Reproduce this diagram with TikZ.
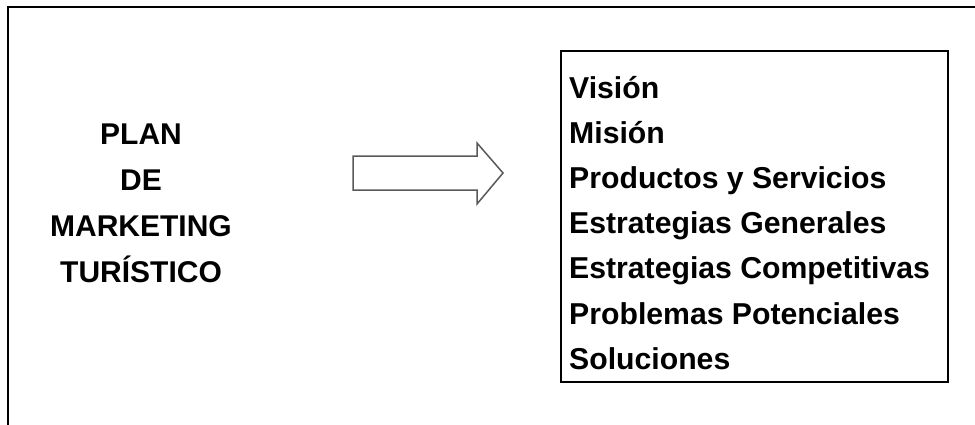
\documentclass[tikz,border=0pt]{standalone}
\usepackage{fontspec}
\setmainfont{Liberation Sans}
\usetikzlibrary{positioning}
\tikzset{
  frame/.style={line width=2pt},
  listbox/.style={draw, line width=2pt, minimum width=387pt, minimum height=331pt, inner sep=0pt},
  item/.style={anchor=base west, inner sep=0pt, font=\fontsize{30.2}{36}\selectfont\bfseries},
  title/.style={align=center, anchor=north, inner sep=0pt, font=\fontsize{30}{46}\selectfont\bfseries},
  fatarrow/.style={draw=gray!70!black, fill=white, line width=1.5pt, line join=miter}
}

\begin{document}
\begin{tikzpicture}[x=1pt, y=-1pt]
  \useasboundingbox (0,0) rectangle (975,424);
  % outer frame, cut off at right and bottom
  \draw[frame] (8,440) -- (8,7) -- (990,7);

  \node[title] (plan) at (141,124) {PLAN\\DE\\MARKETING\\TURÍSTICO};

  % block arrow
  \draw[fatarrow] (353,156) -- (477,156) -- (477,143) -- (503,173) -- (477,204) -- (477,190) -- (353,190) -- cycle;

  \node[listbox] (list) at (754.5,216.5) {};
  \foreach \txt [count=\i] in {Visión, Misión, Productos y Servicios, Estrategias Generales, Estrategias Competitivas, Problemas Potenciales, Soluciones}
    \node[item] (item\i) at (569,{98+45.2*(\i-1)}) {\txt};
\end{tikzpicture}
\end{document}
